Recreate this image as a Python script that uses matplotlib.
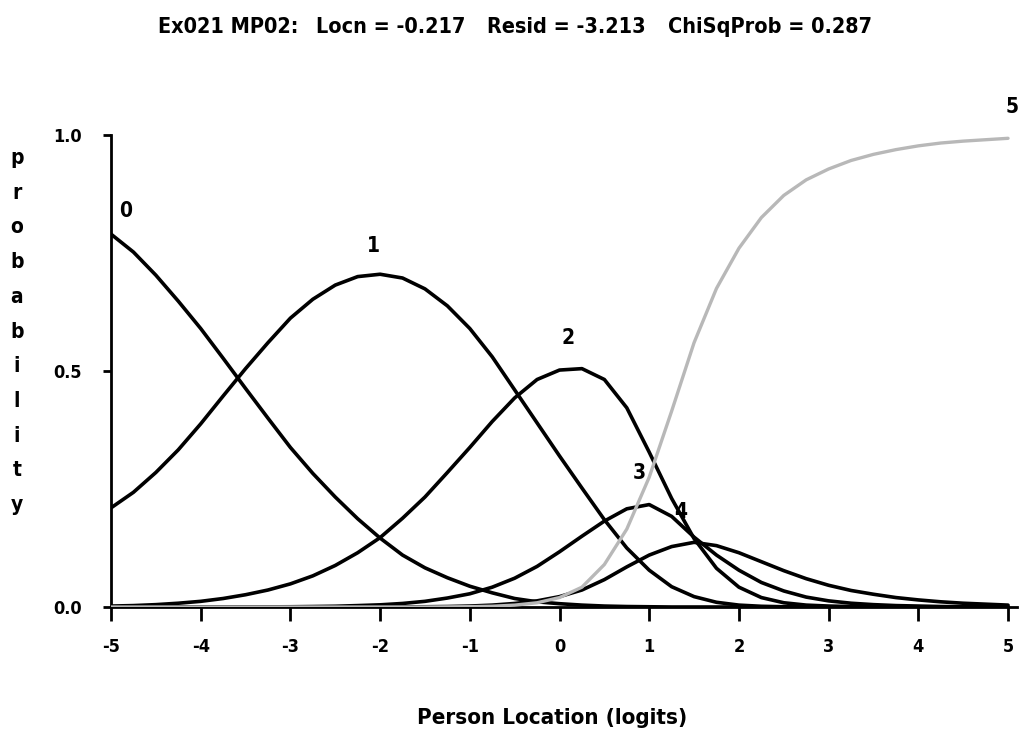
import matplotlib
matplotlib.use("Agg")
import matplotlib.pyplot as plt

# category probability curves, 0.25 logit steps
locs = [-5.0, -4.75, -4.5, -4.25, -4.0, -3.75, -3.5, -3.25, -3.0, -2.75,
        -2.5, -2.25, -2.0, -1.75, -1.5, -1.25, -1.0, -0.75, -0.5, -0.25,
        0.0, 0.25, 0.5, 0.75, 1.0, 1.25, 1.5, 1.75, 2.0, 2.25,
        2.5, 2.75, 3.0, 3.25, 3.5, 3.75, 4.0, 4.25, 4.5, 4.75, 5.0]

cat0 = [0.79, 0.752, 0.703, 0.648, 0.59, 0.527, 0.463, 0.40, 0.338, 0.283,
        0.233, 0.187, 0.146, 0.11, 0.083, 0.062, 0.044, 0.03, 0.018, 0.011,
        0.007, 0.004, 0.002, 0.001, 0.0005, 0.0, 0.0, 0.0, 0.0, 0.0,
        0.0, 0.0, 0.0, 0.0, 0.0, 0.0, 0.0, 0.0, 0.0, 0.0, 0.0]
cat1 = [0.21, 0.243, 0.285, 0.333, 0.388, 0.447, 0.505, 0.56, 0.612, 0.652,
        0.682, 0.70, 0.705, 0.697, 0.674, 0.638, 0.59, 0.53, 0.46, 0.39,
        0.32, 0.252, 0.185, 0.125, 0.078, 0.043, 0.022, 0.01, 0.004, 0.0015,
        0.0005, 0.0, 0.0, 0.0, 0.0, 0.0, 0.0, 0.0, 0.0, 0.0, 0.0]
cat2 = [0.002, 0.003, 0.005, 0.008, 0.012, 0.018, 0.026, 0.036, 0.049, 0.066,
        0.088, 0.115, 0.147, 0.188, 0.233, 0.285, 0.338, 0.393, 0.443, 0.482,
        0.502, 0.505, 0.482, 0.422, 0.328, 0.23, 0.145, 0.082, 0.042, 0.02,
        0.009, 0.004, 0.002, 0.001, 0.0, 0.0, 0.0, 0.0, 0.0, 0.0, 0.0]
cat3 = [0.0, 0.0, 0.0, 0.0, 0.0001, 0.0001, 0.0002, 0.0003, 0.0005, 0.001,
        0.0016, 0.003, 0.0046, 0.0075, 0.012, 0.019, 0.028, 0.042, 0.061, 0.086,
        0.117, 0.15, 0.182, 0.208, 0.217, 0.192, 0.148, 0.11, 0.078, 0.052,
        0.034, 0.021, 0.013, 0.008, 0.005, 0.003, 0.002, 0.001, 0.0005, 0.0, 0.0]
cat4 = [0.0, 0.0, 0.0, 0.0, 0.0, 0.0, 0.0, 0.0, 0.0, 0.0,
        0.0, 0.0, 0.0001, 0.0003, 0.0005, 0.001, 0.002, 0.004, 0.0075, 0.013,
        0.022, 0.036, 0.058, 0.085, 0.11, 0.128, 0.137, 0.13, 0.115, 0.096,
        0.077, 0.06, 0.046, 0.035, 0.027, 0.02, 0.015, 0.011, 0.008, 0.006, 0.004]
cat5 = [0.0, 0.0, 0.0, 0.0, 0.0, 0.0, 0.0, 0.0, 0.0, 0.0,
        0.0, 0.0, 0.0, 0.0, 0.0, 0.0003, 0.0007, 0.0016, 0.004, 0.009,
        0.02, 0.042, 0.09, 0.165, 0.275, 0.415, 0.56, 0.675, 0.76, 0.825,
        0.872, 0.905, 0.928, 0.946, 0.959, 0.969, 0.977, 0.983, 0.987, 0.99, 0.993]

curves = [cat0, cat1, cat2, cat3, cat4, cat5]
cat_names = ['0', '1', '2', '3', '4', '5']
# where the category numbers sit (logit, probability)
label_x = [-4.84, -2.07, 0.09, 0.885, 1.35, 5.04]
label_y = [0.84, 0.765, 0.57, 0.283, 0.202, 1.06]

xticks = [-5, -4, -3, -2, -1, 0, 1, 2, 3, 4, 5]
yticks = [0.0, 0.5, 1.0]

title_parts = ['Ex021 MP02:', 'Locn = -0.217', 'Resid = -3.213', 'ChiSqProb = 0.287']
title_mid = [228, 391, 566, 770]   # pixel centres of each piece

plt.rcParams['font.family'] = ['DejaVu Sans']
plt.rcParams['font.stretch'] = 'condensed'
plt.rcParams['font.weight'] = 'bold'

W, H = 1019, 733
fig = plt.figure(figsize=(W / 100, H / 100), dpi=100)
ax = fig.add_axes([111 / W, 126 / H, 906 / W, 472 / H])

for i, p in enumerate(curves):
    if i == 5:
        ax.plot(locs, p, color='#b8b8b8', lw=2.4, zorder=5, solid_capstyle='round')
    else:
        ax.plot(locs, p, color='black', lw=2.6, zorder=3,
                solid_joinstyle='round', solid_capstyle='round')
    ax.text(label_x[i], label_y[i], cat_names[i], fontsize=15, fontweight='bold',
            ha='center', va='center', zorder=6, clip_on=False)

ax.set_xlim(-5, 5.1)
ax.set_ylim(0, 1.0)
ax.set_xticks(xticks)
ax.set_xticklabels([str(t) for t in xticks])
ax.set_yticks(yticks)
ax.set_yticklabels(['%.1f' % t for t in yticks])
ax.tick_params(axis='x', direction='out', length=10, width=2, pad=12, labelsize=13)
ax.tick_params(axis='y', direction='out', length=6, width=2, pad=15, labelsize=13)

for side in ['top', 'right']:
    ax.spines[side].set_visible(False)
for side in ['left', 'bottom']:
    ax.spines[side].set_linewidth(2)
ax.set_facecolor('white')

# title pieces
for txt, mid in zip(title_parts, title_mid):
    fig.text(mid / W, 1 - 27 / H, txt, fontsize=15.5, fontweight='bold',
             ha='center', va='center')

# vertical y label, one letter per row
for k, ch in enumerate('probability'):
    fig.text(17 / W, 1 - (158 + k * 34.7) / H, ch, fontsize=15, fontweight='bold',
             ha='center', va='center')

fig.text(552 / W, 1 - 718 / H, 'Person Location (logits)', fontsize=16,
         fontweight='bold', ha='center', va='center')

fig.savefig('out.png', dpi=100, facecolor='white')
